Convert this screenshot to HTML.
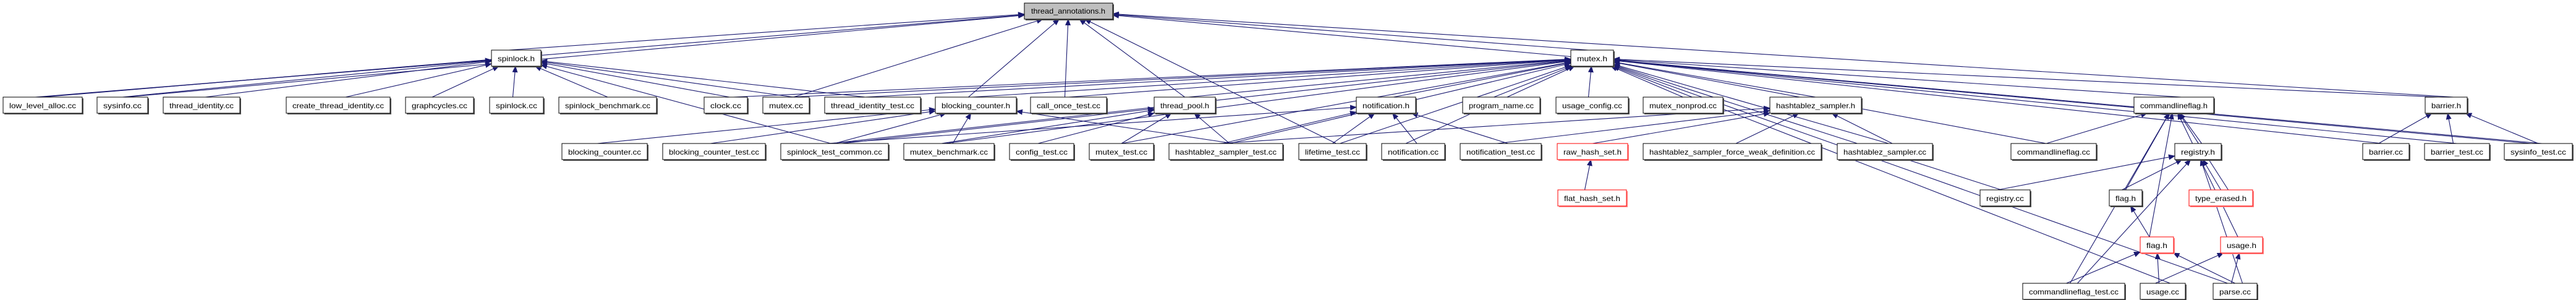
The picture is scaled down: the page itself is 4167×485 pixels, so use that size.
<!DOCTYPE html>
<html><head><meta charset="utf-8"><style>
html,body{margin:0;padding:0;background:#fff;}
svg{display:block;}
text{font-family:"Liberation Sans",sans-serif;font-size:12px;fill:#000;}
</style></head><body>
<svg id="s" width="4167" height="485" xmlns="http://www.w3.org/2000/svg">
<defs><marker id="a" markerWidth="11" markerHeight="9" refX="10" refY="4.5" orient="auto" markerUnits="userSpaceOnUse"><path d="M0,0 L11,4.5 L0,9 z" fill="#191970"/></marker></defs>
<g id="edges" stroke="#191970" stroke-width="1.1" fill="none"></g>
<g id="nodes">
<g><rect x="1659" y="7" width="143" height="26" fill="#555"/><rect x="1657" y="5" width="143" height="26" fill="#bfbfbf" stroke="#000"/><text x="1728" y="22" text-anchor="middle" textLength="120" lengthAdjust="spacingAndGlyphs">thread_annotations.h</text></g>
</g>
</svg>
<script>
var R=[6,81,157,232,307,383,458];
var N={
sl:[795,875,1,"spinlock.h"],mx:[2541,2610,1,"mutex.h"],
lla:[5,133,2,"low_level_alloc.cc"],si:[157,239,2,"sysinfo.cc"],ti:[264,388,2,"thread_identity.cc"],cti:[463,631,2,"create_thread_identity.cc"],gc:[656,766,2,"graphcycles.cc"],slc:[792,879,2,"spinlock.cc"],slb:[904,1062,2,"spinlock_benchmark.cc"],ck:[1139,1209,2,"clock.cc"],mxc:[1234,1309,2,"mutex.cc"],tit:[1334,1489,2,"thread_identity_test.cc"],bch:[1513,1644,2,"blocking_counter.h"],cot:[1667,1790,2,"call_once_test.cc"],tp:[1867,1966,2,"thread_pool.h"],nh:[2194,2290,2,"notification.h"],pn:[2366,2491,2,"program_name.cc"],uc:[2517,2634,2,"usage_config.cc"],mnp:[2658,2787,2,"mutex_nonprod.cc"],hsh:[2863,3011,2,"hashtablez_sampler.h"],cfh:[3452,3581,2,"commandlineflag.h"],bh:[3923,3991,2,"barrier.h"],
bcc:[909,1047,3,"blocking_counter.cc"],bct:[1072,1238,3,"blocking_counter_test.cc"],stc:[1263,1437,3,"spinlock_test_common.cc"],mb:[1462,1608,3,"mutex_benchmark.cc"],ct:[1633,1737,3,"config_test.cc"],mt:[1762,1866,3,"mutex_test.cc"],hst:[1891,2075,3,"hashtablez_sampler_test.cc"],lt:[2101,2210,3,"lifetime_test.cc"],nc:[2235,2337,3,"notification.cc"],nt:[2362,2493,3,"notification_test.cc"],rhs:[2519,2633,3,"raw_hash_set.h",1],fw:[2658,2946,3,"hashtablez_sampler_force_weak_definition.cc"],hsc:[2972,3126,3,"hashtablez_sampler.cc"],cfc:[3253,3391,3,"commandlineflag.cc"],rh:[3518,3593,3,"registry.h"],bc:[3822,3897,3,"barrier.cc"],bt:[3922,4027,3,"barrier_test.cc"],sit:[4051,4161,3,"sysinfo_test.cc"],
fhs:[2520,2631,4,"flat_hash_set.h",1],rc:[3203,3284,4,"registry.cc"],fh:[3412,3465,4,"flag.h"],te:[3541,3644,4,"type_erased.h",1],
fr:[3462,3516,5,"flag.h",1],uh:[3592,3660,5,"usage.h",1],
cft:[3272,3437,6,"commandlineflag_test.cc"],usc:[3462,3535,6,"usage.cc"],pc:[3580,3651,6,"parse.cc"]};
N.ta=[1657,1800,0,"",0,5];
var E={ta:"sl mx lla si mxc bch cot tp lt bh sit",sl:"lla lla si ti cti gc slc slb ck mxc tit stc",
mx:"tit bch cot tp nh pn uc mnp mxc ck bh bc bt sit cfh cfc rc hsh hsc usc pc mb mt hst lt nc stc",
bch:"bcc bct stc mb hst",tp:"mb ct mt hst stc",nh:"stc hst lt nc nt",hsh:"hst nt rhs fw hsc",rhs:"fhs",
cfh:"cfc cft fh rh te fr uh",rh:"rc fh te cft pc",fh:"fr",fr:"cft usc pc",uh:"usc pc",bh:"bc bt sit"};
var ns="http://www.w3.org/2000/svg",g=document.getElementById("nodes"),eg=document.getElementById("edges");
function box(k){var n=N[k];var y=n[5]!==undefined?n[5]:R[n[2]];return {x1:n[0],x2:n[1],y1:y,y2:y+26,cx:(n[0]+n[1])/2,cy:y+13};}
for(var k in N){if(k=="ta")continue;var n=N[k],b=box(k);
var s=document.createElementNS(ns,"rect");s.setAttribute("x",b.x1+2);s.setAttribute("y",b.y1+2);s.setAttribute("width",b.x2-b.x1);s.setAttribute("height",26);s.setAttribute("fill",n[4]?"#f88":"#555");g.appendChild(s);
var r=document.createElementNS(ns,"rect");r.setAttribute("x",b.x1);r.setAttribute("y",b.y1);r.setAttribute("width",b.x2-b.x1);r.setAttribute("height",26);r.setAttribute("fill","#fff");r.setAttribute("stroke",n[4]?"#f00":"#000");g.appendChild(r);
var t=document.createElementNS(ns,"text");t.setAttribute("x",b.cx);t.setAttribute("y",b.y1+18);t.setAttribute("text-anchor","middle");t.setAttribute("textLength",Math.max(20,b.x2-b.x1-20));t.setAttribute("lengthAdjust","spacingAndGlyphs");t.textContent=n[3];g.appendChild(t);}
function clip(b,px,py){var dx=px-b.cx,dy=py-b.cy;var hw=(b.x2-b.x1)/2,hh=13;var t=Math.min(dx?hw/Math.abs(dx):1e9,dy?hh/Math.abs(dy):1e9);return [b.cx+dx*t,b.cy+dy*t];}
for(var p in E){var pb=box(p);E[p].split(" ").forEach(function(c,i){var cb=box(c);
var off=(i%5-2)*3;var sx,sy;
if(cb.y1>pb.y2){sx=cb.cx+off*2;sy=cb.y1;}else{sx=cb.cx;sy=cb.y1;}
var e=clip(pb,sx,sy);var l=document.createElementNS(ns,"line");
l.setAttribute("x1",sx);l.setAttribute("y1",sy);l.setAttribute("x2",e[0]);l.setAttribute("y2",e[1]);l.setAttribute("marker-end","url(#a)");eg.appendChild(l);});}
</script>
</body></html>
